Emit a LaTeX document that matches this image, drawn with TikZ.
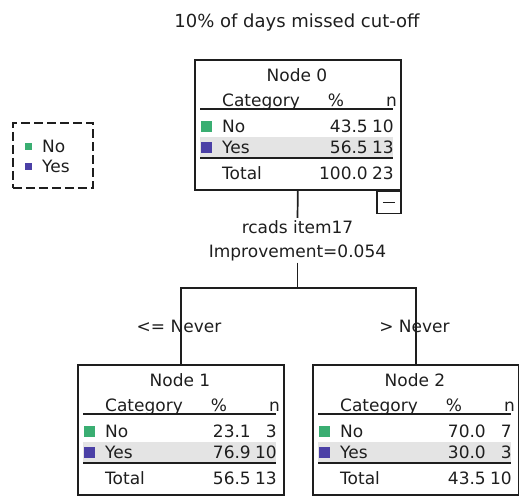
\documentclass[tikz,border=0pt]{standalone}
\usepackage{fontspec}
\setmainfont{DejaVu Sans}
\definecolor{ink}{HTML}{1E1E1E}
\definecolor{nogreen}{HTML}{3AAE72}
\definecolor{yespurple}{HTML}{4B40A6}
\definecolor{bandgray}{HTML}{E4E4E4}

% One node of the classification tree: frame, header, two category rows, total.
% #1 name, #2 title, #3/#4 No % and n, #5/#6 Yes % and n, #7/#8 total % and n
\newcommand{\statbox}[8]{%
  \node[statframe, anchor=north west] (#1) at (0,0) {};
  \fill[bandgray] (6,78) rectangle (199,98);
  \draw[rule] (6,50) -- (199,50);
  \draw[rule] (6,99) -- (199,99);
  \fill[nogreen] (7,62) rectangle (18,73);
  \fill[yespurple] (7,83) rectangle (18,94);
  \node[lbl, anchor=base] (#1-title) at (103,22) {#2};
  \node[lbl, anchor=base west] (#1-cat) at (28,47) {Category};
  \node[lbl, anchor=base] (#1-pcthead) at (142,47) {\%};
  \node[lbl, anchor=base east] (#1-nhead) at (203,47) {n};
  \node[lbl, anchor=base west] (#1-no) at (28,73) {No};
  \node[lbl, anchor=base east] (#1-nopct) at (174,73) {#3};
  \node[lbl, anchor=base east] (#1-non) at (200,73) {#4};
  \node[lbl, anchor=base west] (#1-yes) at (28,94) {Yes};
  \node[lbl, anchor=base east] (#1-yespct) at (174,94) {#5};
  \node[lbl, anchor=base east] (#1-yesn) at (200,94) {#6};
  \node[lbl, anchor=base west] (#1-tot) at (28,120) {Total};
  \node[lbl, anchor=base east] (#1-totpct) at (174,120) {#7};
  \node[lbl, anchor=base east] (#1-totn) at (200,120) {#8};
}

\begin{document}
\begin{tikzpicture}[x=1pt, y=-1pt,
  lbl/.style={inner sep=0pt, font=\fontsize{17}{20}\selectfont, text=ink},
  statframe/.style={draw=ink, line width=1.7pt, minimum width=206pt,
    minimum height=130pt, inner sep=0pt},
  rule/.style={draw=ink, line width=1.6pt},
  link/.style={draw=ink, line width=1.7pt},
  splitlbl/.style={lbl, inner sep=2pt}]

\useasboundingbox (0,0) rectangle (519,498);

% title
\node[lbl, font=\fontsize{18}{20}\selectfont, anchor=base] (title) at (297,27)
  {10\% of days missed cut-off};

% legend
\node[draw=ink, line width=1.5pt, dash pattern=on 9pt off 4pt,
  minimum width=80pt, minimum height=65pt, anchor=north west] (legend) at (12,122) {};
\fill[nogreen] (25,143) rectangle (32,150);
\fill[yespurple] (25,163) rectangle (32,170);
\node[lbl, anchor=base west] (legno) at (42,152) {No};
\node[lbl, anchor=base west] (legyes) at (42,172) {Yes};

% tree nodes
\begin{scope}[shift={(194,59)}]
  \statbox{n0}{Node 0}{43.5}{10}{56.5}{13}{100.0}{23}
\end{scope}
\begin{scope}[shift={(77,364)}]
  \statbox{n1}{Node 1}{23.1}{3}{76.9}{10}{56.5}{13}
\end{scope}
\begin{scope}[shift={(312,364)}]
  \statbox{n2}{Node 2}{70.0}{7}{30.0}{3}{43.5}{10}
\end{scope}

% collapse toggle under node 0
\node[draw=ink, line width=1.5pt, minimum width=24pt, minimum height=22pt,
  inner sep=0pt, anchor=north east] (n0tog) at (n0.south east) {};
\draw[ink, line width=1.5pt] ([xshift=-6pt]n0tog.center) -- ([xshift=6pt]n0tog.center);

% split description
\node[splitlbl, anchor=base] (splitvar) at (297.5,233) {rcads item17};
\node[splitlbl, anchor=base] (splitimp) at (297.5,257) {Improvement=0.054};
\coordinate (bar) at (297.5,288);

\draw[link] (n0.south) -- (splitvar.north);
\draw[link] (splitimp.south) -- (bar);
\draw[link] (bar) -| (n1.north);
\draw[link] (bar) -| (n2.north);

% branch labels
\node[lbl, anchor=base] (brleft) at (179,332) {<= Never};
\node[lbl, anchor=base] (brright) at (414.5,332) {> Never};

\end{tikzpicture}
\end{document}
